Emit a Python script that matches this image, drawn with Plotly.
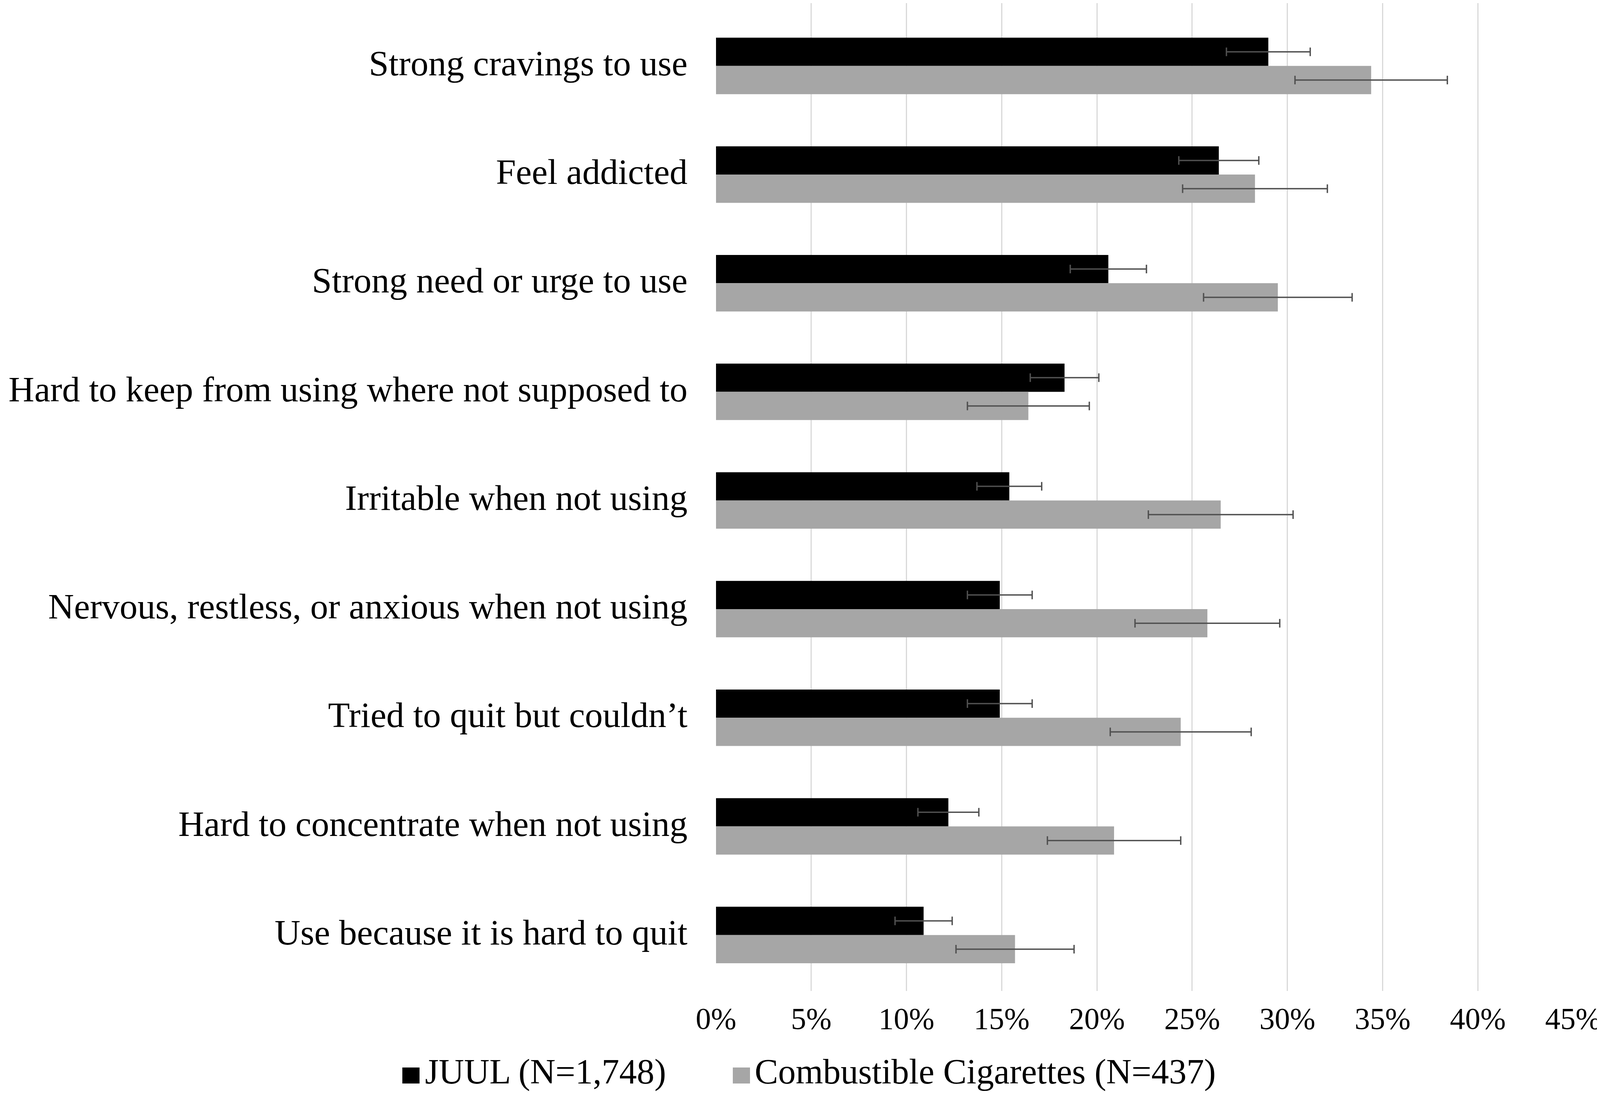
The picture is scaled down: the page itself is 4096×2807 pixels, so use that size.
import plotly.graph_objects as go

categories = [
    "Strong cravings to use",
    "Feel addicted",
    "Strong need or urge to use",
    "Hard to keep from using where not supposed to",
    "Irritable when not using",
    "Nervous, restless, or anxious when not using",
    "Tried to quit but couldn\u2019t",
    "Hard to concentrate when not using",
    "Use because it is hard to quit",
]
juul_vals = [29.0, 26.4, 20.6, 18.3, 15.4, 14.9, 14.9, 12.2, 10.9]
juul_err = [2.2, 2.1, 2.0, 1.8, 1.7, 1.7, 1.7, 1.6, 1.5]
cig_vals = [34.4, 28.3, 29.5, 16.4, 26.5, 25.8, 24.4, 20.9, 15.7]
cig_err = [4.0, 3.8, 3.9, 3.2, 3.8, 3.8, 3.7, 3.5, 3.1]
x_ticks = [0, 5, 10, 15, 20, 25, 30, 35, 40, 45]
x_tick_labels = ["0%", "5%", "10%", "15%", "20%", "25%", "30%", "35%", "40%", "45%"]
series_names = ["JUUL (N=1,748)", "Combustible Cigarettes (N=437)"]

W, H = 4096, 2807
ML, MR, MT, MB = 1825, 77, 0, 277
PW = W - ML - MR
PH = H - MT - MB
FONT = "Liberation Serif, Times New Roman, serif"
BLACK = "#000000"
GRAY = "#a6a6a6"
ERR = "#505050"


def xp(px):
    return (px - ML) / PW


def yp(py):
    return (MT + PH - py) / PH


fig = go.Figure()
fig.add_trace(go.Bar(
    y=categories, x=juul_vals, orientation="h", name=series_names[0],
    marker=dict(color=BLACK, line=dict(width=0)),
    error_x=dict(type="data", array=juul_err, color=ERR, thickness=3.5, width=11),
    showlegend=False,
))
fig.add_trace(go.Bar(
    y=categories, x=cig_vals, orientation="h", name=series_names[1],
    marker=dict(color=GRAY, line=dict(width=0)),
    error_x=dict(type="data", array=cig_err, color=ERR, thickness=3.5, width=11),
    showlegend=False,
))

# manual legend (squares + text)
legend_items = [
    (1022, 1066, 1078, BLACK, series_names[0]),
    (1868, 1912, 1922, GRAY, series_names[1]),
]
shapes = []
annotations = []
for sx0, sx1, tx, col, name in legend_items:
    shapes.append(dict(type="rect", xref="paper", yref="paper",
                       x0=xp(sx0), x1=xp(sx1), y0=yp(2767), y1=yp(2726),
                       fillcolor=col, line=dict(width=0)))
    annotations.append(dict(xref="paper", yref="paper", x=xp(tx), y=yp(2737),
                            xanchor="left", yanchor="middle", showarrow=False,
                            text=name, font=dict(family=FONT, size=90, color="#000000")))

fig.update_layout(
    width=W, height=H,
    margin=dict(l=ML, r=MR, t=MT, b=MB, autoexpand=False),
    paper_bgcolor="white", plot_bgcolor="white",
    barmode="group", bargap=0.48, bargroupgap=0,
    font=dict(family=FONT, color="#000000"),
    shapes=shapes, annotations=annotations,
    xaxis=dict(range=[0, 45], tickvals=x_ticks, ticktext=x_tick_labels,
               showgrid=True, gridcolor="#d9d9d9", gridwidth=2.5,
               zeroline=False, showline=False, ticks="",
               tickfont=dict(family=FONT, size=78, color="#000000"),
               ticklabelstandoff=18, automargin=False, fixedrange=True),
    yaxis=dict(categoryorder="array", categoryarray=categories,
               range=[8.515, -0.578], showgrid=False, zeroline=False,
               showline=False, ticks="",
               tickfont=dict(family=FONT, size=91.5, color="#000000"),
               ticklabelstandoff=72, ticklabelshift=8,
               automargin=False, fixedrange=True),
)

fig.write_html("out.html")
